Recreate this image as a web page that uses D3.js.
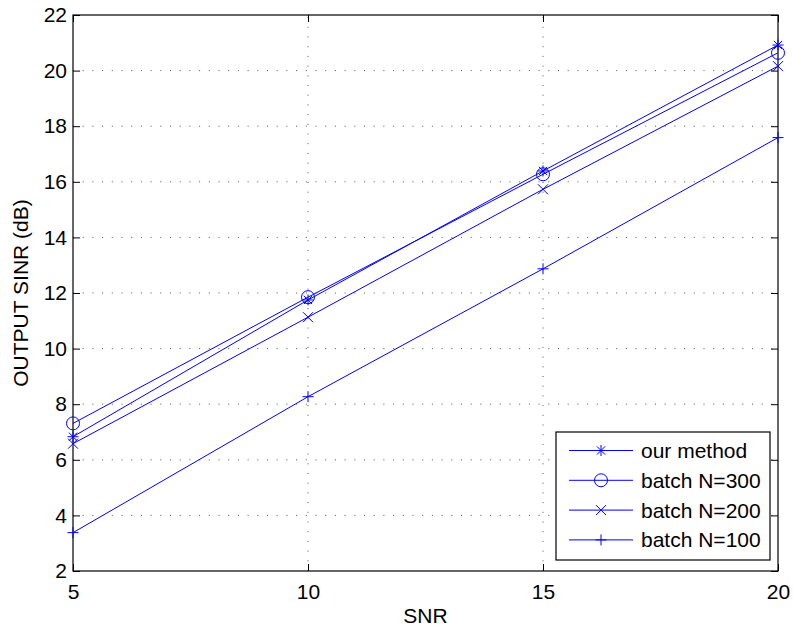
<!DOCTYPE html>
<html>
<head>
    <meta charset="utf-8">
    <title>OUTPUT SINR vs SNR</title>
    <style type="text/css">
        body { margin: 0; background: #fff; }
        text { font-family: "Liberation Sans", Arial, Helvetica, sans-serif; font-size: 21px; fill: #000; }
    </style>
</head>
<body>
<div id="chart"></div>

<script src="https://cdn.jsdelivr.net/npm/d3@7/dist/d3.min.js"></script>
<script type="text/javascript">
    // data
    var snr = [5, 10, 15, 20];
    var ourMethod = [6.83, 11.75, 16.39, 20.92];
    var batch300 = [7.31, 11.85, 16.27, 20.64];
    var batch200 = [6.58, 11.13, 15.73, 20.16];
    var batch100 = [3.38, 8.27, 12.87, 17.59];
    var seriesNames = ["our method", "batch N=300", "batch N=200", "batch N=100"];
    var markers = ["star", "circle", "cross", "plus"];
    var xTicks = [5, 10, 15, 20];
    var yTicks = [2, 4, 6, 8, 10, 12, 14, 16, 18, 20, 22];

    var series = [ourMethod, batch300, batch200, batch100];

    var W = 793, H = 628;
    var pLeft = 73, pRight = 778, pTop = 15, pBottom = 571;

    var svg = d3.select("#chart").append("svg")
        .attr("width", W)
        .attr("height", H);

    var x = d3.scaleLinear().domain([5, 20]).range([pLeft, pRight]);
    var y = d3.scaleLinear().domain([2, 22]).range([pBottom, pTop]);

    // grid (dotted)
    var grid = svg.append("g");
    grid.selectAll("line.gy")
        .data(yTicks.slice(1, -1))
        .enter().append("line")
        .attr("x1", pLeft).attr("x2", pRight)
        .attr("y1", function (d) { return y(d); })
        .attr("y2", function (d) { return y(d); })
        .attr("stroke", "#555")
        .attr("stroke-dasharray", "1,8.7");
    grid.selectAll("line.gx")
        .data(xTicks.slice(1, -1))
        .enter().append("line")
        .attr("y1", pBottom).attr("y2", pTop)
        .attr("x1", function (d) { return x(d); })
        .attr("x2", function (d) { return x(d); })
        .attr("stroke", "#555")
        .attr("stroke-dasharray", "1,8.7");

    // axes, ticks pointing inward
    var axB = d3.axisBottom(x).tickValues(xTicks).tickSize(-7).tickPadding(13).tickFormat(d3.format("d"));
    var axT = d3.axisTop(x).tickValues(xTicks).tickSize(-7).tickFormat("");
    var axL = d3.axisLeft(y).tickValues(yTicks).tickSize(-7).tickPadding(6).tickFormat(d3.format("d"));
    var axR = d3.axisRight(y).tickValues(yTicks).tickSize(-7).tickFormat("");

    function styleAxis(g) {
        g.select(".domain").remove();
        g.selectAll("line").attr("stroke", "#000");
        g.selectAll("text").attr("font-size", null).attr("font-family", null).style("fill", "#000");
    }
    svg.append("g").attr("transform", "translate(0," + pBottom + ")").call(axB).call(styleAxis);
    svg.append("g").attr("transform", "translate(0," + pTop + ")").call(axT).call(styleAxis);
    svg.append("g").attr("transform", "translate(" + pLeft + ",0)").call(axL).call(styleAxis);
    svg.append("g").attr("transform", "translate(" + pRight + ",0)").call(axR).call(styleAxis);

    // frame
    svg.append("rect")
        .attr("x", pLeft).attr("y", pTop)
        .attr("width", pRight - pLeft).attr("height", pBottom - pTop)
        .attr("fill", "none").attr("stroke", "#000").attr("stroke-width", 1.2);

    // axis labels
    svg.append("text")
        .attr("x", (pLeft + pRight) / 2).attr("y", 623)
        .attr("text-anchor", "middle")
        .text("SNR");
    svg.append("text")
        .attr("transform", "translate(28," + ((pTop + pBottom) / 2) + ") rotate(-90)")
        .attr("text-anchor", "middle")
        .text("OUTPUT SINR (dB)");

    // marker drawing
    function drawMarker(g, type, cx, cy) {
        var r = 5.5;
        var p = "";
        if (type === "circle") {
            g.append("circle").attr("cx", cx).attr("cy", cy).attr("r", 6.5)
                .attr("fill", "none").attr("stroke", "#0000ff");
            return;
        }
        if (type === "plus" || type === "star") {
            p += "M" + (cx - r) + "," + cy + "H" + (cx + r) + "M" + cx + "," + (cy - r) + "V" + (cy + r);
        }
        if (type === "cross" || type === "star") {
            var q = type === "star" ? r * 0.75 : 5;
            p += "M" + (cx - q) + "," + (cy - q) + "L" + (cx + q) + "," + (cy + q) +
                "M" + (cx - q) + "," + (cy + q) + "L" + (cx + q) + "," + (cy - q);
        }
        g.append("path").attr("d", p).attr("fill", "none").attr("stroke", "#0000ff");
    }

    var line = d3.line()
        .x(function (d, i) { return x(snr[i]); })
        .y(function (d) { return y(d); });

    var lines = svg.append("g");
    series.forEach(function (s, k) {
        lines.append("path")
            .attr("d", line(s))
            .attr("fill", "none")
            .attr("stroke", "#0000ff")
            .attr("stroke-width", 1);
        s.forEach(function (v, i) {
            drawMarker(lines, markers[k], x(snr[i]), y(v));
        });
    });

    // legend
    var lg = svg.append("g");
    lg.append("rect")
        .attr("x", 556).attr("y", 432)
        .attr("width", 214).attr("height", 128)
        .attr("fill", "#fff").attr("stroke", "#000").attr("stroke-width", 1.2);
    seriesNames.forEach(function (name, k) {
        var ly = 450.5 + k * 29.8;
        lg.append("line")
            .attr("x1", 569).attr("x2", 633)
            .attr("y1", ly).attr("y2", ly)
            .attr("stroke", "#0000ff");
        drawMarker(lg, markers[k], 601, ly);
        lg.append("text")
            .attr("x", 641).attr("y", ly)
            .attr("dy", "0.36em")
            .text(name);
    });
</script>
</body>
</html>
